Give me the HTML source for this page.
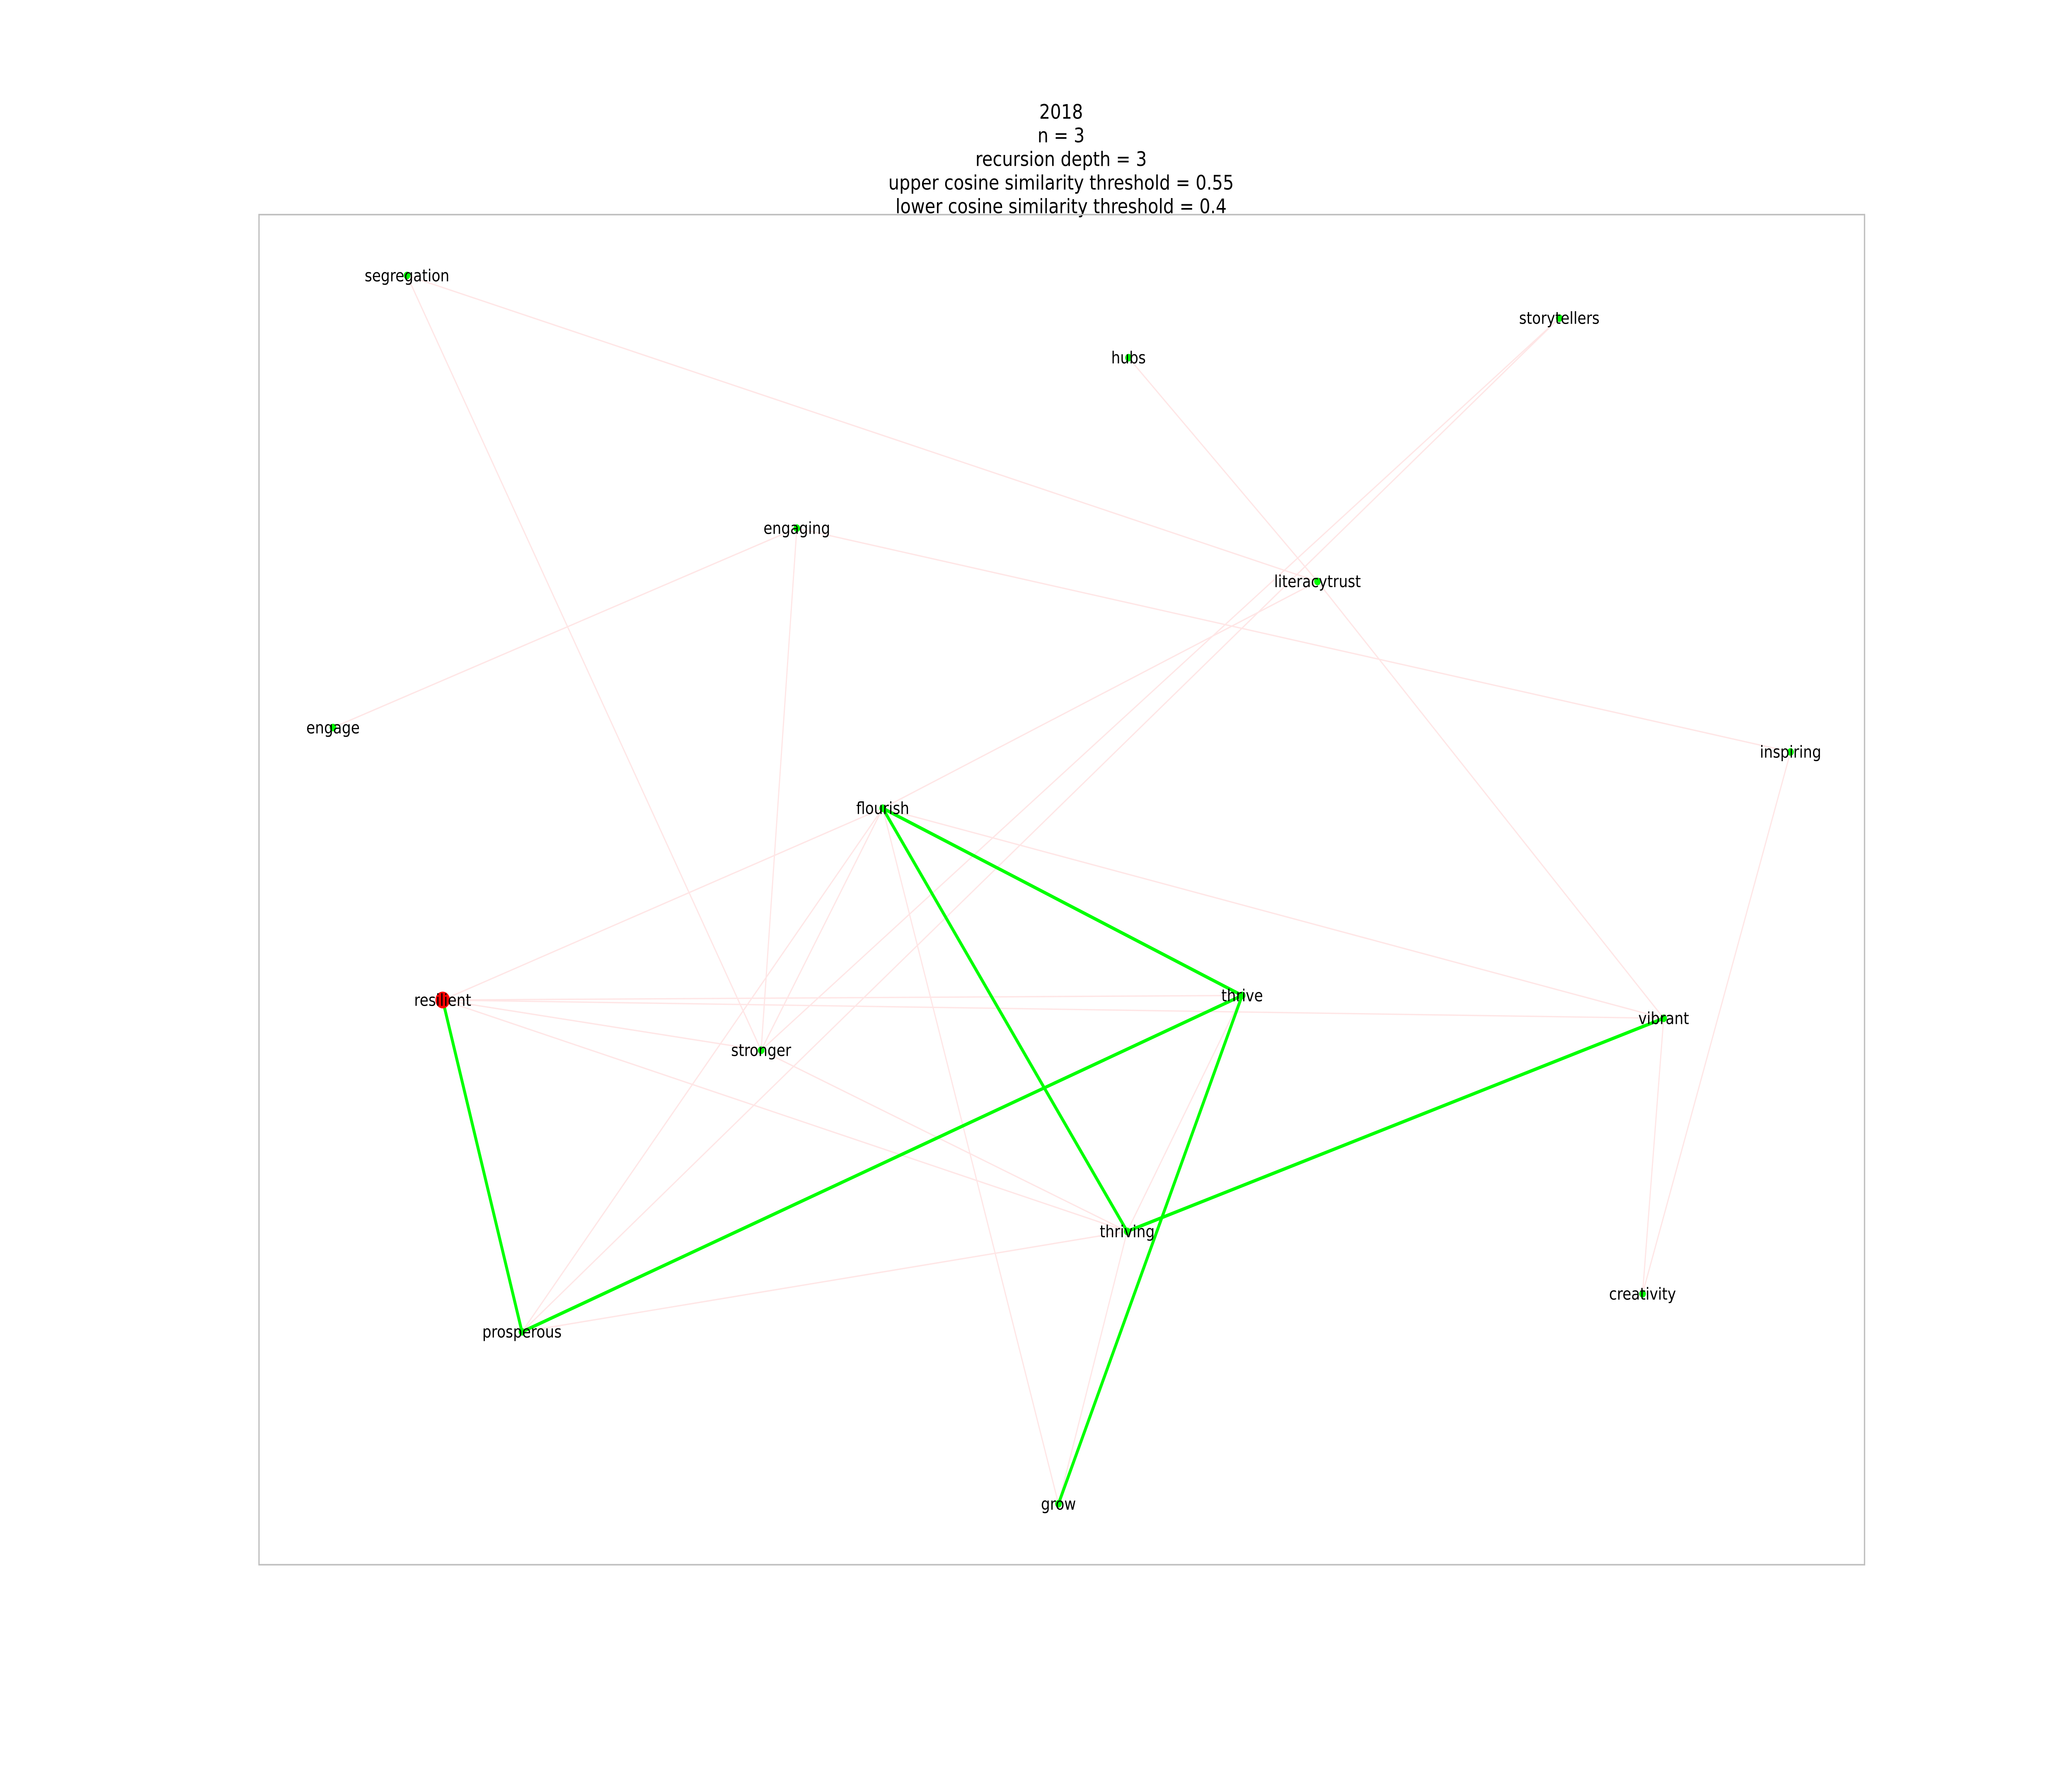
<!DOCTYPE html>
<html><head><meta charset="utf-8">
<style>
html,body{margin:0;padding:0;background:#fff;width:100%;height:100%;overflow:hidden;}
svg{display:block;position:absolute;left:0;top:0;width:100vw;height:100vh;}
text{font-family:"DejaVu Sans","Liberation Sans",sans-serif;}
</style></head>
<body>
<svg id="chart" viewBox="0 0 1568 1176" preserveAspectRatio="none" xmlns="http://www.w3.org/2000/svg">
<rect x="0" y="0" width="1568" height="1176" fill="#fff"/>
<g font-size="13" text-anchor="middle" fill="#000">
<text x="803" y="78">2018</text>
<text x="803" y="93.5">n = 3</text>
<text x="803" y="109">recursion depth = 3</text>
<text x="803" y="124.5">upper cosine similarity threshold = 0.55</text>
<text x="803" y="140">lower cosine similarity threshold = 0.4</text>
</g>
<rect x="196" y="141" width="1215" height="887" fill="none" stroke="#bfbfbf" stroke-width="1"/>
<g id="edges"></g>
<g id="nodes"></g>
<g id="labels"></g>
</svg>
<script>
// node layout coordinates (axis units 0..1215 x, 0..887 y within frame)
const nodeNames = ["segregation","hubs","storytellers","engaging","literacytrust","engage","inspiring","flourish","resilient","thrive","vibrant","stronger","thriving","creativity","prosperous","grow"];
const nodeX = [112,658,984,407,801,56,1159,472,139,744,1063,380,657,1047,199,605];
const nodeY = [40,94,68,206,241,337,353,390,516,513,528,549,668,709,734,847];
const strongEdges = [["flourish","thrive"],["flourish","thriving"],["resilient","prosperous"],["prosperous","thrive"],["thrive","grow"],["thriving","vibrant"]];
const weakEdges = [["segregation","literacytrust"],["segregation","stronger"],["hubs","literacytrust"],["literacytrust","vibrant"],["storytellers","stronger"],["storytellers","prosperous"],["engaging","engage"],["engaging","inspiring"],["engaging","stronger"],["literacytrust","flourish"],["inspiring","creativity"],["flourish","resilient"],["flourish","stronger"],["flourish","prosperous"],["flourish","grow"],["flourish","vibrant"],["resilient","thrive"],["resilient","vibrant"],["resilient","stronger"],["resilient","thriving"],["stronger","thriving"],["thrive","thriving"],["thriving","grow"],["vibrant","creativity"],["prosperous","thriving"]];
const rootNode = "resilient";

const X0=196, Y0=141;
function sx(v){return X0+v;}
function sy(v){return Y0+v;}
const NS="http://www.w3.org/2000/svg";
const idx = n => nodeNames.indexOf(n);
const eg=document.getElementById('edges');
function drawEdge(e,color,w,name){
  const a=idx(e[0]), b=idx(e[1]);
  const l=document.createElementNS(NS,'line');
  l.setAttribute('x1',sx(nodeX[a]));l.setAttribute('y1',sy(nodeY[a]));
  l.setAttribute('x2',sx(nodeX[b]));l.setAttribute('y2',sy(nodeY[b]));
  l.setAttribute('stroke',color);l.setAttribute('stroke-width',w);
  
  
  eg.appendChild(l);
}
weakEdges.forEach(e=>drawEdge(e,'#ffe6e6',0.9,'weak-edge-'+e[0]+'-'+e[1]));
strongEdges.forEach(e=>drawEdge(e,'#00ff00',2.2,'strong-edge-'+e[0]+'-'+e[1]));
const ng=document.getElementById('nodes'), lg=document.getElementById('labels');
nodeNames.forEach((n,i)=>{
  const c=document.createElementNS(NS,'circle');
  c.setAttribute('cx',sx(nodeX[i]));c.setAttribute('cy',sy(nodeY[i]));
  const root = n===rootNode;
  c.setAttribute('r',root?5.5:2.5);
  c.setAttribute('fill',root?'#ff0000':'#00ff00');
  
  
  ng.appendChild(c);
  const t=document.createElementNS(NS,'text');
  t.setAttribute('x',sx(nodeX[i]));t.setAttribute('y',sy(nodeY[i])+3.8);
  t.setAttribute('text-anchor','middle');t.setAttribute('font-size','10.8');
  t.textContent=n;
  
  
  lg.appendChild(t);
});
</script>
</body></html>
